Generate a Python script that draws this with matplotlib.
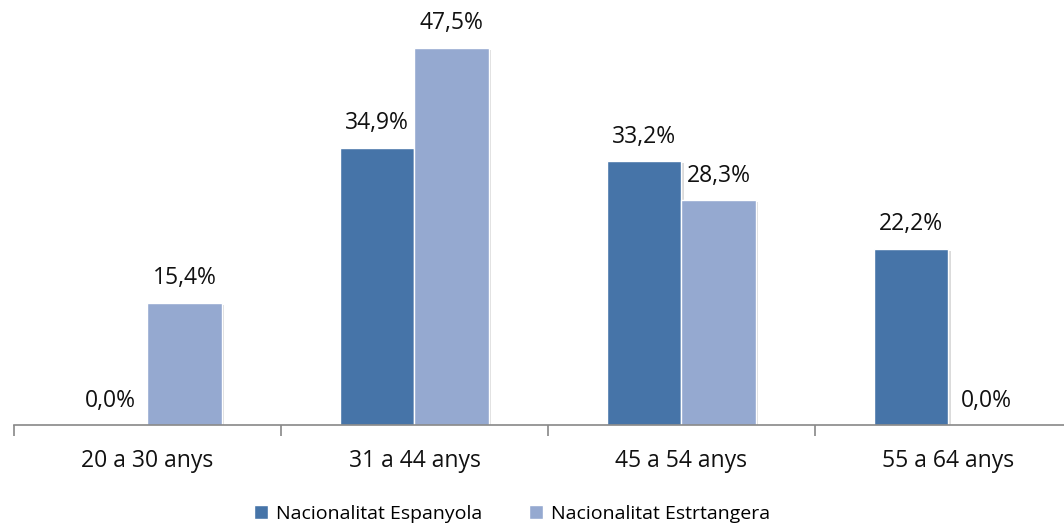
import numpy as np
import matplotlib
matplotlib.use("Agg")
import matplotlib.pyplot as plt
import matplotlib.patheffects as pe

categories = ["20 a 30 anys", "31 a 44 anys", "45 a 54 anys", "55 a 64 anys"]
espanyola = [0.0, 34.9, 33.2, 22.2]
estrangera = [15.4, 47.5, 28.3, 0.0]
series_names = ["Nacionalitat Espanyola", "Nacionalitat Estrtangera"]

plt.rcParams['font.family'] = ['Open Sans', 'DejaVu Sans']

fig = plt.figure(figsize=(10.64, 5.28), dpi=100)
# axis runs past the right edge, like the original
ax = fig.add_axes([14 / 1064, 103 / 528, 1068 / 1064, 397 / 528])

x = np.arange(len(categories))
w = 0.28
c1, c2 = "#4674A8", "#95A9D0"
shadow = [pe.SimplePatchShadow(offset=(1.5, -1.5), shadow_rgbFace="#999999", alpha=0.35),
          pe.Normal()]
b1 = ax.bar(x - w / 2, espanyola, w, color=c1, edgecolor="white", linewidth=1.0,
            label=series_names[0], path_effects=shadow)
b2 = ax.bar(x + w / 2, estrangera, w, color=c2, edgecolor="white", linewidth=1.0,
            label=series_names[1], path_effects=shadow)

def fmt(v):
    return ("%.1f%%" % v).replace(".", ",")

for bars, vals in ((b1, espanyola), (b2, estrangera)):
    for r, v in zip(bars, vals):
        ax.annotate(fmt(v), (r.get_x() + r.get_width() / 2, v), xytext=(0, 9),
                    textcoords="offset points", ha="center", va="bottom", fontsize=16.5,
                    color="#111111")

ax.set_xlim(-0.5, len(categories) - 0.5)
ax.set_ylim(0, 50)
ax.set_yticks([])
for s in ("top", "right", "left"):
    ax.spines[s].set_visible(False)
ax.spines["bottom"].set_color("#888888")
ax.spines["bottom"].set_linewidth(1.2)
ax.set_xticks(np.arange(-0.5, len(categories), 1.0))
ax.set_xticklabels([])
ax.tick_params(axis="x", length=8, color="#888888", width=1.2, direction="out")
ax.set_xticks(x, minor=True)
ax.set_xticklabels(categories, minor=True, fontsize=16.5, color="#111111")
ax.tick_params(axis="x", which="minor", length=0, pad=17)

leg = ax.legend(loc="center", bbox_to_anchor=(512 / 1064, 14 / 528),
                bbox_transform=fig.transFigure, ncol=2, frameon=False,
                fontsize=14, handlelength=0.72, handleheight=0.72, handletextpad=0.4,
                columnspacing=2.4)
for h in leg.legend_handles:
    h.set_path_effects([])

fig.savefig("out.png", dpi=100)
